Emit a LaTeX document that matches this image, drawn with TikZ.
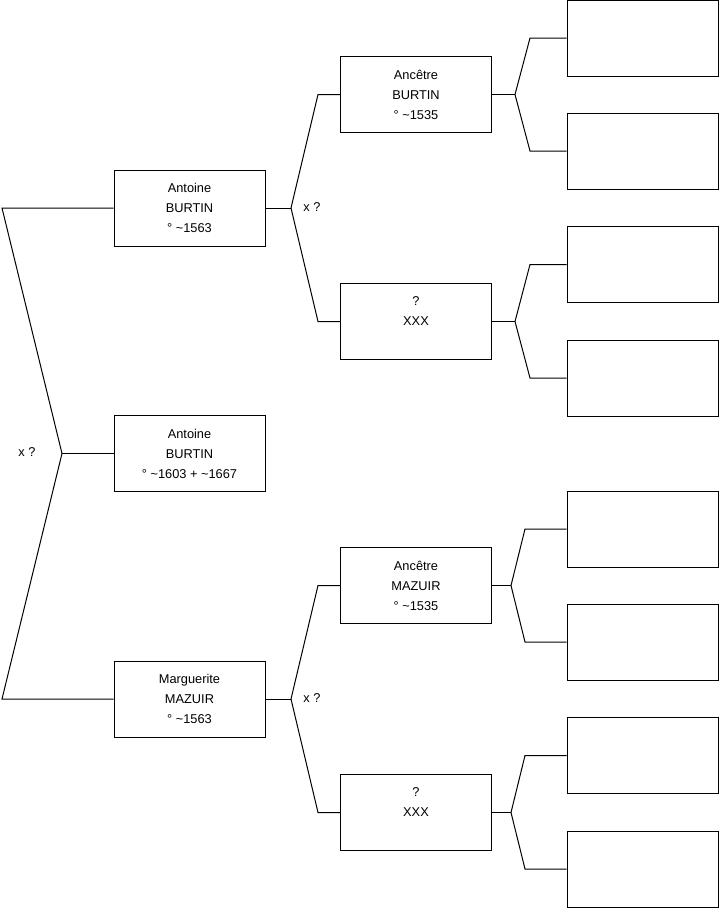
\documentclass[tikz,border=0pt]{standalone}
\usepackage{fontspec}
\setmainfont{Liberation Sans}
\begin{document}
\begin{tikzpicture}[x=1pt,y=-1pt,
  box/.style={draw, line width=1pt, minimum width=151pt, minimum height=76pt, inner sep=0pt, align=center, font=\fontsize{12.8}{20}\selectfont},
  conn/.style={line width=1pt},
  lab/.style={font=\fontsize{12.8}{14}\selectfont, inner sep=0pt}]
\useasboundingbox (0,0) rectangle (719,908);
% generation 1
\node[box] (c) at (189.5,453.5) {Antoine\\BURTIN\\° \textasciitilde1603 + \textasciitilde1667};
% generation 2
\node[box] (p) at (189.5,208) {Antoine\\BURTIN\\° \textasciitilde1563};
\node[box] (m) at (189.5,699) {Marguerite\\MAZUIR\\° \textasciitilde1563};
% generation 3
\node[box] (pp) at (416,94.5) {Ancêtre\\BURTIN\\° \textasciitilde1535};
\node[box] (pm) at (416,321.5) {?\\XXX\\\mbox{}};
\node[box] (mp) at (416,585.5) {Ancêtre\\MAZUIR\\° \textasciitilde1535};
\node[box] (mm) at (416,812.5) {?\\XXX\\\mbox{}};
% generation 4
\node[box] (g1) at (642.5,38) {};
\node[box] (g2) at (642.5,151) {};
\node[box] (g3) at (642.5,264.5) {};
\node[box] (g4) at (642.5,378) {};
\node[box] (g5) at (642.5,529) {};
\node[box] (g6) at (642.5,642) {};
\node[box] (g7) at (642.5,755.5) {};
\node[box] (g8) at (642.5,869) {};
% fork coordinates
\coordinate (f0) at (62,453.5);
\coordinate (f0a) at (2,208);
\coordinate (f0b) at (2,699);
\coordinate (fp) at (291,208);
\coordinate (fpa) at (318,94.5);
\coordinate (fpb) at (318,321.5);
\coordinate (fm) at (291,699);
\coordinate (fma) at (318,585.5);
\coordinate (fmb) at (318,812.5);
\coordinate (f1) at (515,94.5);
\coordinate (f1a) at (530,38);
\coordinate (f1b) at (530,151);
\coordinate (f2) at (515,321.5);
\coordinate (f2a) at (530,264.5);
\coordinate (f2b) at (530,378);
\coordinate (f3) at (511,585.5);
\coordinate (f3a) at (525,529);
\coordinate (f3b) at (525,642);
\coordinate (f4) at (511,812.5);
\coordinate (f4a) at (525,755.5);
\coordinate (f4b) at (525,869);
% connectors
\draw[conn] (c.west) -- (f0);
\draw[conn] (f0) -- (f0a) -- (p.west);
\draw[conn] (f0) -- (f0b) -- (m.west);
\draw[conn] (p.east) -- (fp);
\draw[conn] (fp) -- (fpa) -- (pp.west);
\draw[conn] (fp) -- (fpb) -- (pm.west);
\draw[conn] (m.east) -- (fm);
\draw[conn] (fm) -- (fma) -- (mp.west);
\draw[conn] (fm) -- (fmb) -- (mm.west);
\draw[conn] (pp.east) -- (f1);
\draw[conn] (f1) -- (f1a) -- (g1.west);
\draw[conn] (f1) -- (f1b) -- (g2.west);
\draw[conn] (pm.east) -- (f2);
\draw[conn] (f2) -- (f2a) -- (g3.west);
\draw[conn] (f2) -- (f2b) -- (g4.west);
\draw[conn] (mp.east) -- (f3);
\draw[conn] (f3) -- (f3a) -- (g5.west);
\draw[conn] (f3) -- (f3b) -- (g6.west);
\draw[conn] (mm.east) -- (f4);
\draw[conn] (f4) -- (f4a) -- (g7.west);
\draw[conn] (f4) -- (f4b) -- (g8.west);
% labels
\node[lab] (l0) at (27,452) {x ?};
\node[lab] (l1) at (312,207) {x ?};
\node[lab] (l2) at (312,698) {x ?};
\end{tikzpicture}
\end{document}
